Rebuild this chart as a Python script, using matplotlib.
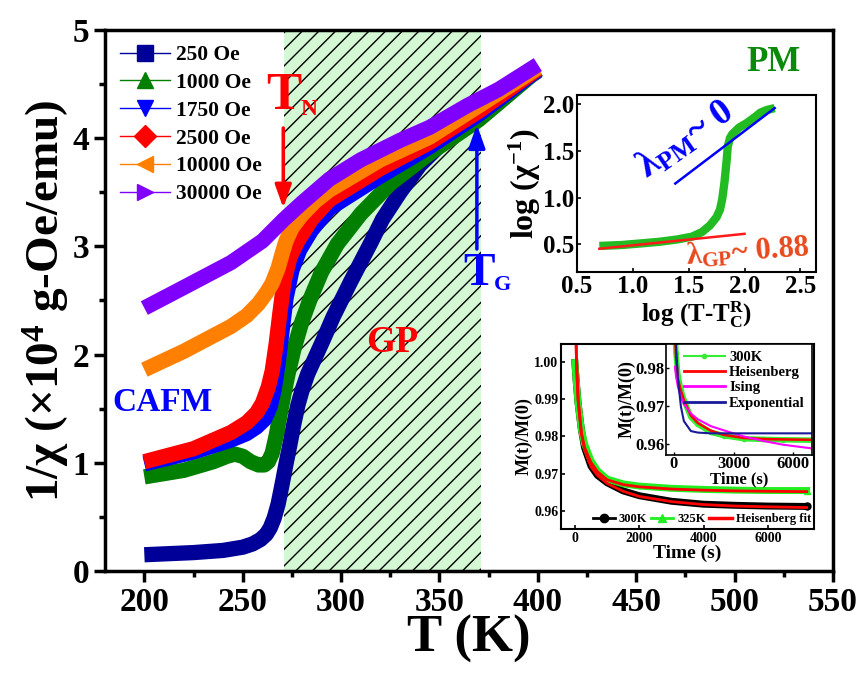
import numpy as np
import matplotlib
matplotlib.use('Agg')
import matplotlib.pyplot as plt
from matplotlib.lines import Line2D

plt.rcParams['font.family'] = ['Liberation Serif', 'DejaVu Serif']
plt.rcParams['font.weight'] = 'bold'
plt.rcParams['axes.labelweight'] = 'bold'
plt.rcParams['mathtext.fontset'] = 'custom'
plt.rcParams['mathtext.rm'] = 'Liberation Serif:bold'
plt.rcParams['mathtext.it'] = 'Liberation Serif:bold:italic'
plt.rcParams['mathtext.bf'] = 'Liberation Serif:bold'
plt.rcParams['mathtext.default'] = 'rm'
plt.rcParams['hatch.linewidth'] = 1.0

# main panel: 1/chi vs T for each field
labels = ['250 Oe', '1000 Oe', '1750 Oe', '2500 Oe', '10000 Oe', '30000 Oe']
colors = ['#000099', '#007f00', '#0000ff', '#ff0000', '#ff8000', '#8000ff']
markers = ['s', '^', 'v', 'D', '<', '>']

T250 = [200, 225, 240, 250, 255, 259, 262, 264, 266, 268, 270, 272, 274, 276, 278, 280, 283, 287, 291, 296, 305, 315, 321, 330, 340, 355, 370, 385, 400]
y250 = [0.15, 0.17, 0.19, 0.22, 0.25, 0.29, 0.34, 0.40, 0.49, 0.62, 0.80, 0.99, 1.17, 1.36, 1.53, 1.66, 1.82, 1.98, 2.14, 2.35, 2.68, 3.03, 3.25, 3.50, 3.75, 4.02, 4.25, 4.45, 4.62]
T1000 = [200, 220, 235, 242, 246, 250, 254, 258, 261, 263, 265, 267, 269, 271, 273, 276, 280, 284, 290, 298, 310, 325, 345, 370, 400]
y1000 = [0.87, 0.93, 1.01, 1.06, 1.08, 1.06, 1.01, 0.98, 0.98, 1.01, 1.09, 1.25, 1.45, 1.64, 1.82, 2.05, 2.30, 2.50, 2.76, 3.02, 3.30, 3.58, 3.86, 4.17, 4.63]
T1750 = [200, 225, 244, 252, 257, 261, 264, 266, 268, 270, 272, 275, 279, 285, 294, 320, 345, 370, 400]
y1750 = [0.99, 1.10, 1.21, 1.27, 1.33, 1.40, 1.52, 1.68, 1.92, 2.22, 2.52, 2.78, 2.97, 3.15, 3.35, 3.65, 3.92, 4.22, 4.63]
T2500 = [200, 225, 244, 252, 257, 260, 263, 265, 267, 269, 271, 274, 278, 285, 294, 320, 345, 370, 400]
y2500 = [1.01, 1.13, 1.28, 1.37, 1.46, 1.55, 1.70, 1.85, 2.10, 2.40, 2.68, 2.90, 3.05, 3.25, 3.43, 3.72, 3.96, 4.25, 4.64]
T10000 = [200, 220, 244, 252, 258, 262, 265, 268, 270, 272, 275, 280, 287, 294, 320, 345, 370, 400]
y10000 = [1.86, 2.03, 2.26, 2.36, 2.47, 2.57, 2.66, 2.80, 2.93, 3.05, 3.17, 3.29, 3.42, 3.52, 3.80, 4.01, 4.30, 4.65]
T30000 = [200, 220, 244, 260, 271, 280, 294, 310, 330, 345, 364, 380, 400]
y30000 = [2.43, 2.62, 2.85, 3.05, 3.25, 3.40, 3.62, 3.80, 3.98, 4.10, 4.30, 4.45, 4.68]

Ts = [T250, T1000, T1750, T2500, T10000, T30000]
ys = [y250, y1000, y1750, y2500, y10000, y30000]

# glassy phase window
gp_lo, gp_hi = 271, 371

# inset 1: log(1/chi) vs log(T - Tc^R)
lx = [0.70, 0.90, 1.10, 1.24, 1.40, 1.53, 1.62, 1.69, 1.75, 1.78, 1.80, 1.82, 1.84, 1.85, 1.87, 1.89, 1.95, 2.02, 2.10, 2.14, 2.20, 2.27]
ly = [0.48, 0.49, 0.51, 0.525, 0.55, 0.58, 0.63, 0.70, 0.79, 0.87, 0.98, 1.16, 1.40, 1.55, 1.64, 1.68, 1.75, 1.80, 1.87, 1.91, 1.94, 1.96]
pm_x = [1.38, 2.27]
pm_y = [1.15, 1.96]
gp_x = [0.70, 2.00]
gp_y = [0.45, 0.61]

# inset 2: relaxation M(t)/M(0)
t_rel = [0, 50, 100, 200, 300, 500, 700, 1000, 1500, 2000, 3000, 4000, 5000, 6000, 7200]
m300 = [1.000, 0.994, 0.989, 0.982, 0.977, 0.972, 0.9695, 0.9675, 0.9653, 0.9640, 0.9625, 0.9617, 0.9614, 0.9612, 0.9611]
m325 = [1.000, 0.994, 0.989, 0.982, 0.978, 0.9735, 0.9708, 0.9685, 0.9672, 0.9666, 0.9660, 0.9657, 0.9655, 0.9654, 0.9654]
t_fit = [25, 50, 100, 200, 300, 500, 700, 1000, 1500, 2000, 3000, 4000, 5000, 6000, 7200]
f300 = [1.012, 1.000, 0.990, 0.981, 0.9765, 0.9718, 0.9695, 0.9673, 0.9652, 0.9638, 0.9624, 0.9616, 0.9612, 0.9610, 0.9608]
f325 = [1.012, 1.000, 0.990, 0.981, 0.977, 0.9730, 0.9705, 0.9683, 0.9670, 0.9664, 0.9658, 0.9655, 0.9653, 0.9652, 0.9651]

# inner inset: model comparison at 300K
ti = [50, 100, 200, 350, 500, 850, 1200, 1850, 2500, 3500, 4500, 5500, 7000]
g300 = [0.990, 0.984, 0.978, 0.9742, 0.9715, 0.9671, 0.9652, 0.9631, 0.9622, 0.9614, 0.9612, 0.9611, 0.9610]
heis = [0.989, 0.983, 0.977, 0.9740, 0.9715, 0.9675, 0.9655, 0.9635, 0.9624, 0.9616, 0.9613, 0.9612, 0.9611]
ising = [0.9803, 0.978, 0.975, 0.9724, 0.9705, 0.968, 0.9665, 0.9647, 0.9636, 0.9620, 0.9608, 0.9598, 0.9588]
expo = [0.990, 0.986, 0.977, 0.9698, 0.9660, 0.9634, 0.9630, 0.9628, 0.9628, 0.9628, 0.9628, 0.9628, 0.9628]


fig = plt.figure(figsize=(8.67, 6.77), dpi=100)
ax = fig.add_axes([0.1211, 0.1566, 0.8397, 0.7991])

ax.axvspan(gp_lo, gp_hi, facecolor='#d4f7d4', edgecolor='black', hatch='//', linewidth=0, zorder=0)

for T, y, c in zip(Ts, ys, colors):
    ax.plot(T, y, color=c, lw=11, solid_capstyle='butt', solid_joinstyle='round')

handles = [Line2D([], [], color=c, lw=1, marker=m, markersize=11, markeredgecolor=c)
           for c, m in zip(colors, markers)]
ax.legend(handles, labels, loc='upper left', bbox_to_anchor=(0.0, 1.0), frameon=False,
          prop={'size': 15.5, 'weight': 'bold'}, handlelength=2.3, handletextpad=0.3,
          labelspacing=0.36, borderaxespad=0.3)

ax.set_xlim(180, 550)
ax.set_ylim(0, 5)
ax.set_xticks(np.arange(200, 551, 50))
ax.set_xticks(np.arange(225, 551, 50), minor=True)
ax.set_yticks(np.arange(0, 5.1, 1))
ax.set_yticks(np.arange(0.5, 5, 1), minor=True)
ax.tick_params(which='both', direction='out', width=2.5, labelsize=24)
ax.tick_params(which='major', length=8)
ax.tick_params(which='minor', length=4)
for s in ax.spines.values():
    s.set_linewidth(2.5)
ax.set_xlabel('T (K)', fontsize=38, labelpad=-2)
ax.set_ylabel('1/χ (×10$^4$ g-Oe/emu)', fontsize=34, labelpad=0)

# annotations
ax.annotate('', xy=(270.6, 3.33), xytext=(270.6, 4.12),
            arrowprops=dict(arrowstyle='-|>,head_width=0.5,head_length=1.4', color='red', lw=2.5))
ax.text(262, 4.17, 'T', color='red', fontsize=38, ha='left', va='bottom')
ax.text(279.5, 4.17, 'N', color='red', fontsize=17, ha='left', va='bottom')
ax.annotate('', xy=(369, 4.15), xytext=(369, 2.95),
            arrowprops=dict(arrowstyle='-|>,head_width=0.5,head_length=1.4', color='blue', lw=2.5))
ax.text(362, 2.55, 'T', color='blue', fontsize=34, ha='left', va='bottom')
ax.text(377.5, 2.55, 'G', color='blue', fontsize=16, ha='left', va='bottom')
ax.text(209, 1.56, 'CAFM', color='blue', fontsize=24, ha='center', va='center')
ax.text(326, 2.11, 'GP', color='red', fontsize=27, ha='center', va='center')
ax.text(520, 4.70, 'PM', color='#0a8a0a', fontsize=25, ha='center', va='center')

# inset 1
ax1 = fig.add_axes([0.6655, 0.5982, 0.2757, 0.2614])
ax1.plot(lx, ly, color='#22bb22', lw=6, solid_capstyle='butt')
ax1.plot(pm_x, pm_y, color='#0000ff', lw=1.8)
ax1.plot(gp_x, gp_y, color='#ff1a1a', lw=1.8)
ax1.set_xlim(0.5, 2.64)
ax1.set_ylim(0.2, 2.1)
ax1.set_xticks([0.5, 1.0, 1.5, 2.0, 2.5])
ax1.set_yticks([0.5, 1.0, 1.5, 2.0])
ax1.tick_params(direction='in', length=3, width=1.2, labelsize=18, pad=2)
for s in ax1.spines.values():
    s.set_linewidth(1.5)
ax1.set_xlabel('log (T-T$_C^R$)', fontsize=18, labelpad=1)
ax1.set_ylabel('log (χ$^{-1}$)', fontsize=23, labelpad=0)
ax1.text(1.47, 1.62, 'λ$_{PM}$~ 0', color='#0000ff', fontsize=27, rotation=35,
         ha='center', va='center')
ax1.text(2.03, 0.42, 'λ$_{GP}$~ 0.88', color='#e8481c', fontsize=22, rotation=4,
         ha='center', va='center')

# inset 2
ax2 = fig.add_axes([0.6471, 0.2186, 0.2918, 0.2733])
ax2.plot(t_rel, m300, color='black', lw=5, marker='o', markersize=5, markevery=[len(t_rel) - 1])
ax2.plot(t_rel, m325, color='#22ee22', lw=5, marker='^', markersize=5, markevery=[len(t_rel) - 1])
ax2.plot(t_fit, f300, color='#ff0000', lw=2)
ax2.plot(t_fit, f325, color='#ff0000', lw=2)
ax2.set_xlim(-430, 7430)
ax2.set_ylim(0.955, 1.005)
ax2.set_xticks([0, 2000, 4000, 6000])
ax2.set_yticks([0.96, 0.97, 0.98, 0.99, 1.00])
ax2.set_yticklabels(['0.96', '0.97', '0.98', '0.99', '1.00'])
ax2.tick_params(direction='in', length=3, width=1.2, labelsize=10, pad=2)
for s in ax2.spines.values():
    s.set_linewidth(1.5)
ax2.set_xlabel('Time (s)', fontsize=14, labelpad=0)
ax2.set_ylabel('M(t)/M(0)', fontsize=13, labelpad=1)
h2 = [Line2D([], [], color='black', lw=2, marker='o', markersize=6),
      Line2D([], [], color='#22ee22', lw=2, marker='^', markersize=6),
      Line2D([], [], color='#ff0000', lw=2.5)]
ax2.legend(h2, ['300K', '325K', 'Heisenberg fit'], loc='lower left', bbox_to_anchor=(0.08, -0.04),
           ncol=3, frameon=False, prop={'size': 9, 'weight': 'bold'}, handlelength=1.8,
           handletextpad=0.3, columnspacing=0.3)

# inner inset
ax3 = fig.add_axes([0.7682, 0.3279, 0.1684, 0.1640])
ax3.plot(ti, g300, color='#33ee33', lw=4, marker='o', markersize=3)
ax3.plot(ti, heis, color='#ff0000', lw=1.8)
ax3.plot(ti, ising, color='#ff00ff', lw=1.5)
ax3.plot(ti, expo, color='#1a1a99', lw=1.5)
ax3.set_xlim(-400, 6950)
ax3.set_ylim(0.9571, 0.9863)
ax3.set_xticks([0, 3000, 6000])
ax3.set_yticks([0.96, 0.97, 0.98])
ax3.tick_params(direction='in', length=2.5, width=1.0, labelsize=12, pad=1)
for s in ax3.spines.values():
    s.set_linewidth(1.2)
ax3.set_xlabel('Time (s)', fontsize=12, labelpad=-1)
ax3.set_ylabel('M(t)/M(0)', fontsize=13, labelpad=0)
h3 = [Line2D([], [], color='#33ee33', lw=1.5, marker='o', markersize=3),
      Line2D([], [], color='#ff0000', lw=2),
      Line2D([], [], color='#ff00ff', lw=2),
      Line2D([], [], color='#1a1a99', lw=2)]
ax3.legend(h3, ['300K', 'Heisenberg', 'Ising', 'Exponential'], loc='upper right',
           bbox_to_anchor=(1.04, 1.06), frameon=False, prop={'size': 10.5, 'weight': 'bold'},
           handlelength=2.8, handletextpad=0.3, labelspacing=0.15)

fig.savefig('out.png', dpi=100)
